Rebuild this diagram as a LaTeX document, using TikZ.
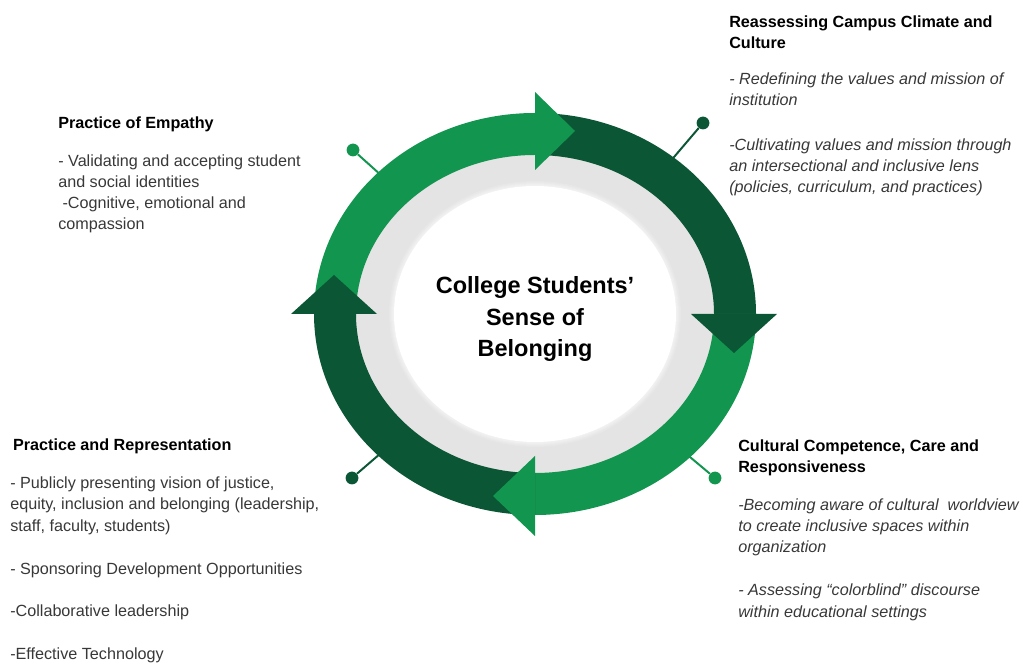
\documentclass[tikz,border=0pt]{standalone}
\usepackage{fontspec}
\setmainfont{Liberation Sans}
\definecolor{LightGreen}{HTML}{12954F}
\definecolor{DarkGreen}{HTML}{0B5634}
\definecolor{RingGray}{HTML}{E4E4E4}
\definecolor{TextGray}{HTML}{383838}
\newcommand{\RingPiece}[3]{
\fill[#3] (#1:221 and 201) arc[start angle=#1, end angle=#2, x radius=221, y radius=201] % outer edge
  -- (#2:179 and 159) arc[start angle=#2, end angle=#1, x radius=179, y radius=159] -- cycle; % inner edge
}
\newcommand{\RingHead}[4]{
\fill[#4] (#1) -- (#2) -- (#3) -- cycle;
}

\begin{document}
\begin{tikzpicture}[x=0.025cm, y=0.025cm,
block/.style={anchor=base west, align=left, inner sep=0, text=TextGray, font=\fontsize{11.5}{15}\selectfont},
pin/.style={circle, inner sep=0, minimum size=.32cm},
pinline/.style={line width=1.4pt},
]
\useasboundingbox (0,0) rectangle (1023,663);

%%%%%%%%%%%%%%%%%%%%%%%% PINS %%%%%%%%%%%%%%%%%%%%%%%%%%%
\node[pin, fill=LightGreen] (PinTL) at (353,513) {};
\coordinate (PinTLend) at (392,478);
\node[pin, fill=DarkGreen] (PinTR) at (703,540) {};
\coordinate (PinTRend) at (663,493);
\node[pin, fill=LightGreen] (PinBR) at (715,185) {};
\coordinate (PinBRend) at (678,216);
\node[pin, fill=DarkGreen] (PinBL) at (352,185) {};
\coordinate (PinBLend) at (388,216);
\draw[pinline, LightGreen] (PinTL) -- (PinTLend);
\draw[pinline, DarkGreen] (PinTR) -- (PinTRend);
\draw[pinline, LightGreen] (PinBR) -- (PinBRend);
\draw[pinline, DarkGreen] (PinBL) -- (PinBLend);

%%%%%%%%%%%%%%%%%%%%%%%% RING %%%%%%%%%%%%%%%%%%%%%%%%%%%
\coordinate (O) at (535,349);
\begin{scope}[shift={(O)}]
\fill[RingGray] (0,0) ellipse[x radius=200, y radius=180];
\foreach \k in {0,...,5}
  \fill[white!\k0!RingGray] (0,0) ellipse[x radius=147-\k, y radius=134-\k]; % soft edge
\fill[white] (0,0) ellipse[x radius=141, y radius=128];

\RingPiece{180}{90}{LightGreen}
\RingPiece{90}{0}{DarkGreen}
\RingPiece{0}{-90}{LightGreen}
\RingPiece{-90}{-180}{DarkGreen}

\RingHead{0,222}{0,144}{40,183}{LightGreen}
\RingHead{156,0}{242,0}{199,-39}{DarkGreen}
\RingHead{0,-142}{0,-222}{-42,-182}{LightGreen}
\RingHead{-158,0}{-244,0}{-201,39}{DarkGreen}
\end{scope}

\node[align=center, inner sep=0, text=black, font=\fontsize{16.7}{22.5}\selectfont\bfseries] (Belonging) at (535,344)
{College Students’\\Sense of\\Belonging};

%%%%%%%%%%%%%%%%%%%%%%%% TEXT %%%%%%%%%%%%%%%%%%%%%%%%%%%
% base anchor sits on the last line of each block
\node[block] (Empathy) at (58,433) {
\textcolor{black}{\bfseries Practice of Empathy}\\[12pt]
- Validating and accepting student\\
and social identities\\
\hspace*{3pt}-Cognitive, emotional and\\
compassion};

\node[block, font=\fontsize{11.5}{15}\selectfont\itshape] (Climate) at (729,470) {
\textcolor{black}{\bfseries\upshape Reassessing Campus Climate and}\\
\textcolor{black}{\bfseries\upshape Culture}\\[11pt]
- Redefining the values and mission of\\
institution\\[17pt]
-Cultivating values and mission through\\
an intersectional and inclusive lens\\
(policies, curriculum, and practices)};

\node[block, font=\fontsize{11.5}{15}\selectfont\itshape] (Competence) at (738,46) {
\textcolor{black}{\bfseries\upshape Cultural Competence, Care and}\\
\textcolor{black}{\bfseries\upshape Responsiveness}\\[12pt]
-Becoming aware of cultural \ worldview\\
to create inclusive spaces within\\
organization\\[16pt]
- Assessing “colorblind” discourse\\
within educational settings};

\node[block] (Representation) at (10,4) {
\hspace*{2pt}\textcolor{black}{\bfseries Practice and Representation}\\[12pt]
- Publicly presenting vision of justice,\\
equity, inclusion and belonging (leadership,\\
staff, faculty, students)\\[16pt]
- Sponsoring Development Opportunities\\[15pt]
-Collaborative leadership\\[15pt]
-Effective Technology};

\end{tikzpicture}
\end{document}
